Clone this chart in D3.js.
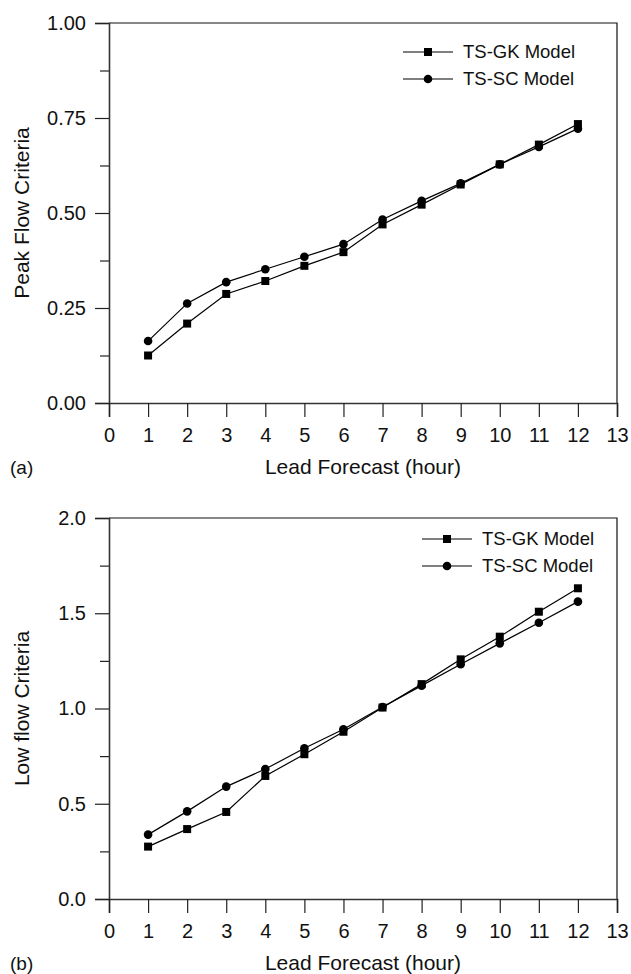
<!DOCTYPE html>
<html>
<head>
<meta charset="utf-8">
<script src="https://cdn.jsdelivr.net/npm/d3@7"></script>
<style>
  body { margin: 0; background: #fff; }
  svg { display: block; font-family: 'Liberation Sans', Arial, sans-serif; }
</style>
</head>
<body>
<svg id="chart" width="631" height="974"></svg>
<script>
/* Chart values
--------------------------------------------------- */
const hours = [1, 2, 3, 4, 5, 6, 7, 8, 9, 10, 11, 12];
const xTicks = [0, 1, 2, 3, 4, 5, 6, 7, 8, 9, 10, 11, 12, 13];

const peakGK = [0.125, 0.209, 0.287, 0.321, 0.361, 0.397, 0.47, 0.522, 0.575, 0.628, 0.68, 0.734];
const peakSC = [0.163, 0.262, 0.318, 0.352, 0.385, 0.418, 0.483, 0.532, 0.578, 0.628, 0.674, 0.722];
const peakTicks = [0, 0.25, 0.5, 0.75, 1];
const peakMinor = [0.125, 0.375, 0.625, 0.875];

const lowGK = [0.275, 0.367, 0.457, 0.646, 0.76, 0.878, 1.005, 1.128, 1.258, 1.377, 1.508, 1.631];
const lowSC = [0.338, 0.46, 0.59, 0.682, 0.791, 0.891, 1.008, 1.12, 1.232, 1.342, 1.45, 1.561];
const lowTicks = [0, 0.5, 1, 1.5, 2];
const lowMinor = [0.25, 0.75, 1.25, 1.75];

const seriesNames = ['TS-GK Model', 'TS-SC Model'];

/* Panel setup
--------------------------------------------------- */
const svg = d3.select('#chart');
const left = 109;
const right = 617;

const panels = [
  {
    top: 23, bottom: 403, domain: [0, 1], ticks: peakTicks, minor: peakMinor,
    format: d3.format('.2f'), title: 'Peak Flow Criteria', tag: '(a)',
    gk: peakGK, sc: peakSC, legendX: 403, legendY: 52,
  },
  {
    top: 518, bottom: 899, domain: [0, 2], ticks: lowTicks, minor: lowMinor,
    format: d3.format('.1f'), title: 'Low flow Criteria', tag: '(b)',
    gk: lowGK, sc: lowSC, legendX: 422, legendY: 539,
  },
];

function drawPanel(p) {
  const x = d3.scaleLinear().domain([0, 13]).range([left, right]);
  const y = d3.scaleLinear().domain(p.domain).range([p.bottom, p.top]);
  const g = svg.append('g');

  // frame (top + right)
  g.append('path')
    .attr('d', `M${left},${p.top}H${right}V${p.bottom}`)
    .attr('fill', 'none')
    .attr('stroke', '#111')
    .attr('stroke-width', 1.2);

  // minor y ticks
  g.append('g')
    .attr('transform', `translate(${left},0)`)
    .call(d3.axisLeft(y).tickValues(p.minor).tickSize(9).tickFormat(''))
    .call(a => a.select('.domain').remove());

  // major y ticks
  const yAxis = g.append('g')
    .attr('transform', `translate(${left},0)`)
    .call(d3.axisLeft(y).tickValues(p.ticks).tickSize(14).tickPadding(9).tickFormat(p.format));

  const xAxis = g.append('g')
    .attr('transform', `translate(0,${p.bottom})`)
    .call(d3.axisBottom(x).tickValues(xTicks).tickSize(14).tickPadding(11).tickFormat(d3.format('d')));

  [yAxis, xAxis].forEach(a => {
    a.attr('font-family', null).attr('font-size', null);
    a.selectAll('text').attr('font-size', 20).attr('fill', '#111');
    a.selectAll('line').attr('stroke', '#222').attr('stroke-width', 1.2);
    a.select('.domain').attr('stroke', '#333').attr('stroke-width', 1.6);
  });
  g.selectAll('g line').attr('stroke', '#222').attr('stroke-width', 1.2);

  // axis titles
  g.append('text')
    .attr('transform', `translate(29,${(p.top + p.bottom) / 2}) rotate(-90)`)
    .attr('text-anchor', 'middle')
    .attr('font-size', 21)
    .attr('fill', '#111')
    .text(p.title);

  g.append('text')
    .attr('x', (left + right) / 2)
    .attr('y', p.bottom + 71)
    .attr('text-anchor', 'middle')
    .attr('font-size', 21)
    .attr('fill', '#111')
    .text('Lead Forecast (hour)');

  g.append('text')
    .attr('x', 10)
    .attr('y', p.bottom + 71)
    .attr('font-size', 19)
    .attr('fill', '#111')
    .text(p.tag);

  // lines and markers
  const line = d3.line()
    .x((d, i) => x(hours[i]))
    .y(d => y(d));

  [p.gk, p.sc].forEach(values => {
    g.append('path')
      .datum(values)
      .attr('fill', 'none')
      .attr('stroke', '#000')
      .attr('stroke-width', 1.2)
      .attr('d', line);
  });

  g.selectAll('.sq')
    .data(p.gk)
    .enter()
    .append('rect')
    .attr('x', (d, i) => x(hours[i]) - 4)
    .attr('y', d => y(d) - 4)
    .attr('width', 8)
    .attr('height', 8)
    .attr('fill', '#000');

  g.selectAll('.dot')
    .data(p.sc)
    .enter()
    .append('circle')
    .attr('cx', (d, i) => x(hours[i]))
    .attr('cy', d => y(d))
    .attr('r', 4.3)
    .attr('fill', '#000');

  // legend
  seriesNames.forEach((name, i) => {
    const ly = p.legendY + i * 27;
    const lg = g.append('g');
    lg.append('line')
      .attr('x1', p.legendX).attr('x2', p.legendX + 50)
      .attr('y1', ly).attr('y2', ly)
      .attr('stroke', '#000').attr('stroke-width', 1.2);
    if (i === 0) {
      lg.append('rect')
        .attr('x', p.legendX + 21).attr('y', ly - 4)
        .attr('width', 8).attr('height', 8).attr('fill', '#000');
    } else {
      lg.append('circle')
        .attr('cx', p.legendX + 25).attr('cy', ly)
        .attr('r', 4.3).attr('fill', '#000');
    }
    lg.append('text')
      .attr('x', p.legendX + 60)
      .attr('y', ly)
      .attr('dy', '0.35em')
      .attr('font-size', 18.5)
      .attr('fill', '#111')
      .text(name);
  });
}

panels.forEach(drawPanel);
</script>
</body>
</html>
